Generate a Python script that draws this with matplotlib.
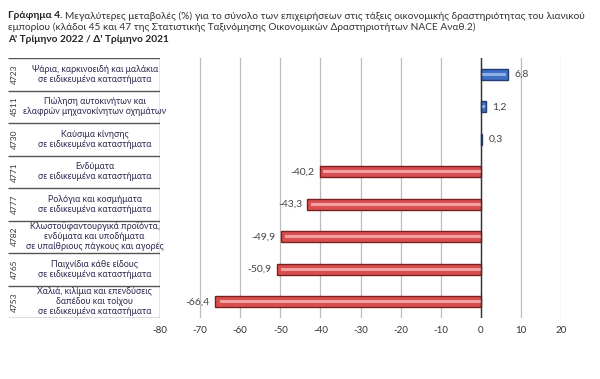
import numpy as np
import matplotlib
matplotlib.use("Agg")
from matplotlib import pyplot as plt

plt.rcParams['font.family'] = ['Lato', 'DejaVu Sans']

codes = ["4723", "4511", "4730", "4771", "4777", "4782", "4765", "4753"]
labels = [
    "Ψάρια, καρκινοειδή και μαλάκια\nσε ειδικευμένα καταστήματα",
    "Πώληση αυτοκινήτων και\nελαφρών μηχανοκίνητων οχημάτων",
    "Καύσιμα κίνησης\nσε ειδικευμένα καταστήματα",
    "Ενδύματα\nσε ειδικευμένα καταστήματα",
    "Ρολόγια και κοσμήματα\nσε ειδικευμένα καταστήματα",
    "Κλωστοϋφαντουργικά προϊόντα,\nενδύματα και υποδήματα\nσε υπαίθριους πάγκους και αγορές",
    "Παιχνίδια κάθε είδους\nσε ειδικευμένα καταστήματα",
    "Χαλιά, κιλίμια και επενδύσεις\nδαπέδου και τοίχου\nσε ειδικευμένα καταστήματα",
]
values = [6.8, 1.2, 0.3, -40.2, -43.3, -49.9, -50.9, -66.4]
xticks = [-80, -70, -60, -50, -40, -30, -20, -10, 0, 10, 20]

W, H = 600, 379
fig = plt.figure(figsize=(W / 100, H / 100), dpi=100)

tfs = 7.3
t1 = fig.text(8 / W, 1 - 16 / H, "Γράφημα 4.", fontsize=tfs, fontweight="bold",
              color="#222222", va="center")
r = fig.canvas.get_renderer()
bb = t1.get_window_extent(r)
fig.text((bb.x1 + 3) / W, 1 - 16 / H,
         "Μεγαλύτερες μεταβολές (%) για το σύνολο των επιχειρήσεων στις τάξεις οικονομικής δραστηριότητας του λιανικού",
         fontsize=tfs, color="#333333", va="center")
fig.text(8 / W, 1 - 27 / H,
         "εμπορίου (κλάδοι 45 και 47 της Στατιστικής Ταξινόμησης Οικονομικών Δραστηριοτήτων NACE Αναθ.2)",
         fontsize=tfs, color="#333333", va="center")
fig.text(8 / W, 1 - 39 / H, "Α' Τρίμηνο 2022 / Δ' Τρίμηνο 2021",
         fontsize=tfs, fontweight="bold", color="#222222", va="center")

top, bottom = 58, 318
left, right = 160, 561
ax = fig.add_axes([left / W, 1 - bottom / H, (right - left) / W, (bottom - top) / H])
n = len(values)
y = np.arange(n)
ax.set_ylim(n - 0.5, -0.5)
ax.set_xlim(-80, 20)

for x in xticks[1:]:
    ax.axvline(x, color="#bdbdbd", lw=0.9, zorder=0)
ax.axvline(0, color="#333333", lw=1.0, zorder=3)

h = 0.35
for yi, v in zip(y, values):
    if v >= 0:
        face, edge, light = "#3f6fc2", "#1f3e78", "#8fb0e6"
    else:
        face, edge, light = "#d94f4f", "#7a2020", "#f3a0a0"
    ax.barh(yi, v, height=h, color=face, edgecolor=edge, lw=1.0, zorder=2)
    ax.barh(yi, v * 0.98 if v < 0 else v * 0.94, left=0, height=h * 0.3, color=light,
            lw=0, zorder=2.5)
    txt = ("%.1f" % v).replace(".", ",")
    if v >= 0:
        ax.text(v + 1.6, yi, txt, ha="left", va="center", fontsize=7.5, color="#444444")
    else:
        ax.text(v - 1.2, yi, txt, ha="right", va="center", fontsize=7.5, color="#444444")

ax.set_yticks([])
ax.set_xticks(xticks)
ax.set_xticklabels([str(t) for t in xticks], fontsize=7, color="#333333")
ax.tick_params(axis="x", length=0, pad=6)
for s in ax.spines.values():
    s.set_visible(False)

# table of categories
tab = fig.add_axes([8 / W, 1 - bottom / H, (left - 8) / W, (bottom - top) / H])
tab.set_xlim(0, 1)
tab.set_ylim(n - 0.5, -0.5)
tab.axis("off")
for b in np.arange(n + 1) - 0.5:
    tab.plot([0, 1], [b, b], color="#555555", lw=1.0, solid_capstyle="butt")
tab.plot([1, 1], [-0.5, n - 0.5], color="#777777", lw=1.0)
for yi, c, lab in zip(y, codes, labels):
    tab.text(0.04, yi, c, rotation=90, ha="center", va="center", fontsize=6, color="#333333")
    tab.text(0.57, yi, lab, ha="center", va="center", fontsize=6.4, color="#2a2a50",
             linespacing=1.12)

fig.savefig("out.png", dpi=100)
